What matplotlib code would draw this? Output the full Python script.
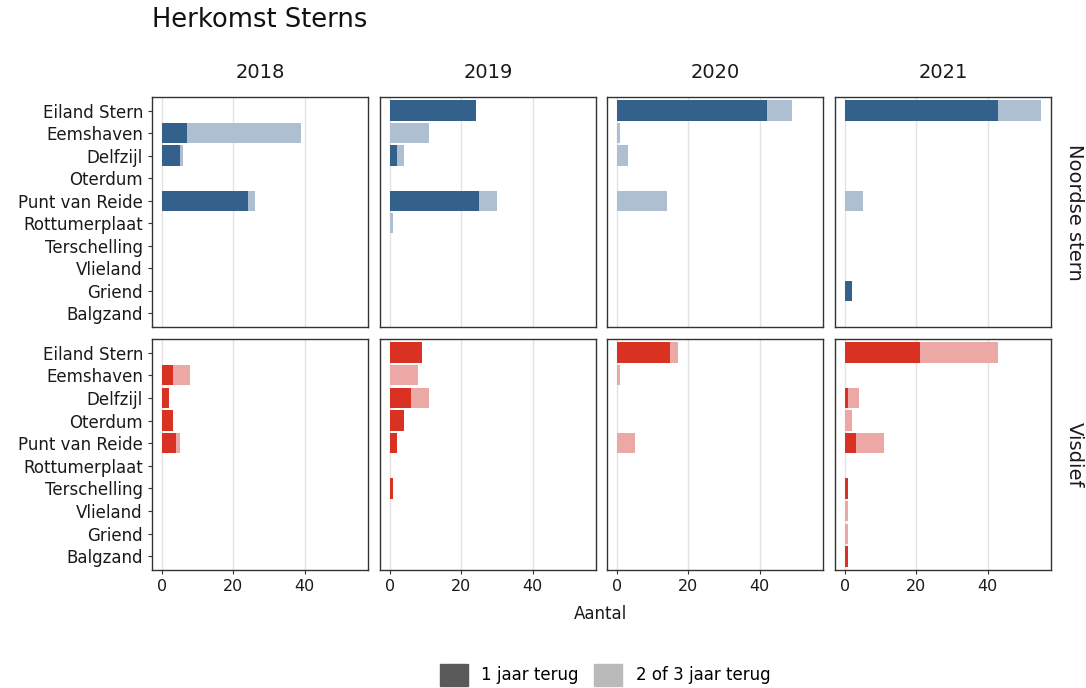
import matplotlib
matplotlib.use("Agg")
import matplotlib.pyplot as plt
from matplotlib.patches import Patch
import numpy as np

plt.rcParams['font.family'] = ['DejaVu Sans']

locations = ["Eiland Stern", "Eemshaven", "Delfzijl", "Oterdum", "Punt van Reide",
             "Rottumerplaat", "Terschelling", "Vlieland", "Griend", "Balgzand"]
years = ["2018", "2019", "2020", "2021"]
species = ["Noordse stern", "Visdief"]

# 1 jaar terug (dark) and 2 of 3 jaar terug (light), per species per year, in location order
noordse_1jaar = {
    "2018": [0, 7, 5, 0, 24, 0, 0, 0, 0, 0],
    "2019": [24, 0, 2, 0, 25, 0, 0, 0, 0, 0],
    "2020": [42, 0, 0, 0, 0, 0, 0, 0, 0, 0],
    "2021": [43, 0, 0, 0, 0, 0, 0, 0, 2, 0],
}
noordse_23jaar = {
    "2018": [0, 32, 1, 0, 2, 0, 0, 0, 0, 0],
    "2019": [0, 11, 2, 0, 5, 1, 0, 0, 0, 0],
    "2020": [7, 1, 3, 0, 14, 0, 0, 0, 0, 0],
    "2021": [12, 0, 0, 0, 5, 0, 0, 0, 0, 0],
}
visdief_1jaar = {
    "2018": [0, 3, 2, 3, 4, 0, 0, 0, 0, 0],
    "2019": [9, 0, 6, 4, 2, 0, 1, 0, 0, 0],
    "2020": [15, 0, 0, 0, 0, 0, 0, 0, 0, 0],
    "2021": [21, 0, 1, 0, 3, 0, 1, 0, 0, 1],
}
visdief_23jaar = {
    "2018": [0, 5, 0, 0, 1, 0, 0, 0, 0, 0],
    "2019": [0, 8, 5, 0, 0, 0, 0, 0, 0, 0],
    "2020": [2, 1, 0, 0, 5, 0, 0, 0, 0, 0],
    "2021": [22, 0, 3, 2, 8, 0, 0, 1, 1, 0],
}

data = {"Noordse stern": (noordse_1jaar, noordse_23jaar),
        "Visdief": (visdief_1jaar, visdief_23jaar)}
colors = {"Noordse stern": ("#34618b", "#aebfd1"),
          "Visdief": ("#d93222", "#eba8a4")}

W, H = 1086, 688
fig = plt.figure(figsize=(W / 100, H / 100), dpi=100)

col_x = [(152, 368), (380, 596), (607, 823), (835, 1051)]
row_y = [(97, 327), (339, 570)]

ypos = np.arange(len(locations))[::-1] + 1  # Eiland Stern top

for r, sp in enumerate(species):
    d1, d2 = data[sp]
    c1, c2 = colors[sp]
    for c, yr in enumerate(years):
        x0, x1 = col_x[c]
        y0, y1 = row_y[r]
        ax = fig.add_axes([x0 / W, 1 - y1 / H, (x1 - x0) / W, (y1 - y0) / H])
        v1 = np.array(d1[yr])
        v2 = np.array(d2[yr])
        ax.barh(ypos, v1, height=0.9, color=c1, linewidth=0)
        ax.barh(ypos, v2, left=v1, height=0.9, color=c2, linewidth=0)
        ax.set_xlim(-2.75, 57.75)
        ax.set_ylim(0.4, 10.6)
        ax.set_xticks([0, 20, 40])
        ax.grid(axis='x', color='#e3e3e3', linewidth=1.0)
        ax.set_axisbelow(True)
        for s in ax.spines.values():
            s.set_color('#333333')
            s.set_linewidth(1.0)
        ax.tick_params(axis='both', colors='#333333', length=3, width=0.8,
                       labelcolor='#1a1a1a')
        ax.tick_params(axis='x', labelsize=11.5)
        ax.tick_params(axis='y', labelsize=12)
        ax.set_yticks(ypos)
        if c == 0:
            ax.set_yticklabels(locations)
        else:
            ax.tick_params(axis='y', left=False, labelleft=False)
        if r == 0:
            ax.tick_params(axis='x', bottom=False, labelbottom=False)
            ax.set_title(yr, fontsize=14, pad=14, color='#1a1a1a')
        if c == 3:
            ax.text(1.11, 0.5, sp, transform=ax.transAxes, rotation=-90,
                    ha='center', va='center', fontsize=14, color='#1a1a1a')

fig.text(152 / W, 1 - 20 / H, "Herkomst Sterns", fontsize=18.5, ha='left', va='center',
         color='#111111')
fig.text(601 / W, 1 - 614 / H, "Aantal", fontsize=12, ha='center', va='center',
         color='#1a1a1a')

handles = [Patch(color='#595959', label='1 jaar terug'),
           Patch(color='#bababa', label='2 of 3 jaar terug')]
fig.legend(handles=handles, loc='center', bbox_to_anchor=(605 / W, 1 - 675 / H),
           ncol=2, frameon=False, fontsize=12, handlelength=1.7, handleheight=1.7,
           columnspacing=0.9, handletextpad=0.8)

fig.savefig("out.png", dpi=100)
